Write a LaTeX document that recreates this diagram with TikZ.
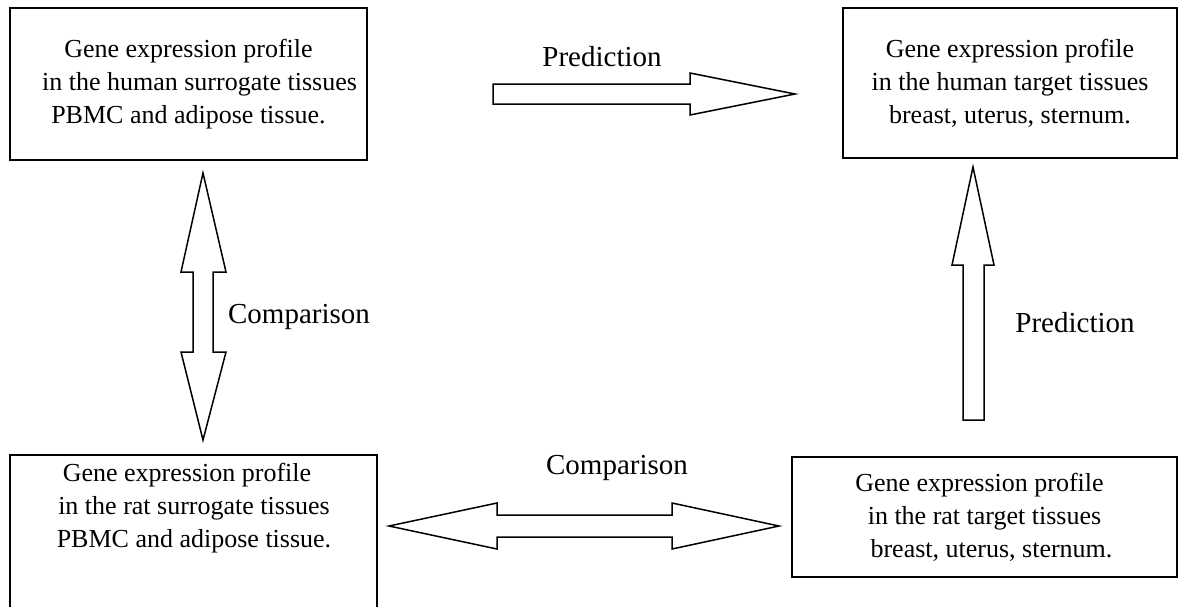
\documentclass[tikz,border=0pt]{standalone}
\usepackage{fontspec}
\setmainfont{Liberation Serif}
\begin{document}
\begin{tikzpicture}[x=1pt,y=-1pt,
  box/.style={draw, line width=1.8pt, inner sep=0pt},
  txt/.style={font=\fontsize{26}{33}\selectfont, align=center, inner sep=0pt},
  lbl/.style={font=\fontsize{29}{34}\selectfont, inner sep=0pt},
  blockarrow/.style={draw, line width=1.5pt, fill=white, line join=miter}]
\useasboundingbox (0,0) rectangle (1185,606);
\clip (0,0) rectangle (1185,606);
% boxes
\node[box, minimum width=357pt, minimum height=152pt] (hs) at (188.5,84) {};
\node[txt] (hstext) at (hs.center)
  {Gene expression profile\\ \hspace*{22pt}in the human surrogate tissues\\ PBMC and adipose tissue.};
\node[box, txt, minimum width=334pt, minimum height=150pt] (ht) at (1010,83)
  {Gene expression profile\\ in the human target tissues\\ breast, uterus, sternum.};
\node[box, minimum width=367pt, minimum height=170pt] (rs) at (193.5,540) {};
\node[txt] (rstext) at (194,508)
  {Gene expression profile\hspace*{14pt}\\ in the rat surrogate tissues\\ PBMC and adipose tissue.};
\node[box, minimum width=385pt, minimum height=120pt] (rt) at (984.5,517) {};
\node[txt] (rttext) at (rt.center)
  {Gene expression profile\hspace*{10pt}\\ in the rat target tissues\hspace*{16pt}\\ \hspace*{14pt}breast, uterus, sternum.};
% block arrows
\draw[blockarrow] (493,84) -- (690,84) -- (690,73) -- (795,94) -- (690,115)
  -- (690,104) -- (493,104) -- cycle;
\draw[blockarrow] (203,173) -- (226,272) -- (213,272) -- (213,352) -- (226,352)
  -- (203,440) -- (181,352) -- (193,352) -- (193,272) -- (181,272) -- cycle;
\draw[blockarrow] (973,167) -- (994,265) -- (984,265) -- (984,420) -- (963,420)
  -- (963,265) -- (952,265) -- cycle;
\draw[blockarrow] (389,526) -- (497,503) -- (497,515) -- (672,515) -- (672,503)
  -- (779,526) -- (672,549) -- (672,537) -- (497,537) -- (497,549) -- cycle;
% labels
\node[lbl] (pred1) at (602,57) {Prediction};
\node[lbl] (comp1) at (299,317) {Comparison};
\node[lbl] (pred2) at (1075,323) {Prediction};
\node[lbl] (comp2) at (617,468) {Comparison};
\end{tikzpicture}
\end{document}
